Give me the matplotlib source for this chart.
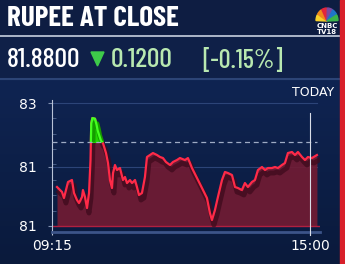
import numpy as np
import matplotlib
matplotlib.use("Agg")
import matplotlib.pyplot as plt
import matplotlib.transforms as mtransforms
from matplotlib.patches import Rectangle, Wedge, Polygon

# data: minutes after 09:15 and rupee level
minutes = [6.7, 13.4, 16.0, 21.4, 26.7, 29.4, 33.4, 36.1, 40.1, 41.4, 44.1, 46.8, 49.5,
           51.5, 52.5, 54.0, 57.5, 59.5, 61.0, 63.0, 65.5, 68.2, 72.2, 74.9, 77.5, 80.2,
           81.6, 84.2, 86.9, 90.9, 94.9, 97.6, 100.3, 104.3, 107.0, 111.0, 113.6, 116.3,
           120.3, 124.3, 127.0, 131.0, 135.0, 140.4, 144.4, 148.4, 152.4, 157.8, 161.8,
           167.1, 171.1, 177.8, 181.8, 187.2, 193.9, 200.6, 207.2, 211.2, 213.9, 217.9,
           221.9, 227.3, 231.3, 235.3, 240.7, 244.7, 248.7, 254.0, 258.0, 262.0, 267.4,
           271.4, 275.4, 280.8, 284.8, 288.8, 294.1, 298.2, 302.2, 307.5, 311.5, 315.5,
           320.9, 324.9, 328.9, 334.3, 338.3, 342.3, 347.6, 354.3]
rate = [81.613, 81.570, 81.518, 81.656, 81.673, 81.561, 81.501, 81.475, 81.527, 81.587,
        81.527, 81.432, 81.561, 81.845, 82.160, 82.206, 82.200, 82.150, 82.100, 82.060,
        82.010, 81.990, 81.905, 81.819, 81.673, 81.604, 81.733, 81.802, 81.759, 81.776,
        81.673, 81.699, 81.647, 81.673, 81.647, 81.673, 81.613, 81.544, 81.561, 81.699,
        81.871, 81.888, 81.905, 81.888, 81.871, 81.862, 81.828, 81.802, 81.828, 81.845,
        81.862, 81.845, 81.862, 81.776, 81.690, 81.604, 81.518, 81.389, 81.329, 81.415,
        81.527, 81.673, 81.742, 81.733, 81.716, 81.613, 81.604, 81.587, 81.647, 81.613,
        81.656, 81.673, 81.759, 81.785, 81.759, 81.776, 81.776, 81.785, 81.776, 81.802,
        81.819, 81.905, 81.914, 81.888, 81.914, 81.871, 81.845, 81.871, 81.862, 81.888]
prev_close = 82.00
base = 81.278
ytick_vals = [82.335, 81.785, 81.278]
ytick_labels = ["83", "81", "81"]
xtick_vals = [0, 345]
xtick_labels = ["09:15", "15:00"]

W, H = 345, 264
def fx(x):
    return x / W
def fy(y):
    return 1 - y / H

cond = ["Barlow Condensed", "DejaVu Sans"]

fig = plt.figure(figsize=(3.45, 2.64), dpi=100)
fig.patch.set_facecolor("#0c1a3a")

# background bands
fig.add_artist(Rectangle((0, fy(36)), 1, 36 / H, transform=fig.transFigure, color="#0e1d42", zorder=0))
fig.add_artist(Rectangle((0, fy(78)), 1, 41 / H, transform=fig.transFigure, color="#0f2048", zorder=0))
grad = np.linspace(0, 1, 100).reshape(-1, 1)
bg = fig.add_axes([0, 0, 1, fy(80)], zorder=0)
bg.imshow(grad, aspect="auto",
          cmap=matplotlib.colors.LinearSegmentedColormap.from_list("bg", ["#0f2452", "#0a1a3c"]),
          extent=[0, 1, 0, 1])
bg.axis("off")
fig.add_artist(plt.Line2D([0, fx(340)], [fy(36), fy(36)], transform=fig.transFigure, color="#c8d0e0", lw=1.2))
fig.add_artist(plt.Line2D([0, fx(340)], [fy(79), fy(79)], transform=fig.transFigure, color="#2c4476", lw=1.5))
# red edge
fig.add_artist(Rectangle((fx(340), 0), 5 / W, 1, transform=fig.transFigure, color="#d8202a", zorder=5))

# header text
fig.text(fx(7), fy(19), "RUPEE AT CLOSE", color="white", fontsize=21, fontweight="bold",
         family=cond, va="center", ha="left")
fig.text(fx(7), fy(60), "81.8800", color="white", fontsize=20, weight="medium", family=cond,
         va="center", ha="left")
fig.add_artist(Polygon([[fx(91), fy(52)], [fx(104), fy(52)], [fx(97.5), fy(66)]], closed=True,
                       transform=fig.transFigure, color="#3ecb4a"))
fig.text(fx(111), fy(60), "0.1200", color="#b8e8b0", fontsize=20, weight="medium", family=cond,
         va="center", ha="left")
fig.text(fx(202), fy(60), "[-0.15%]", color="#b8e8b0", fontsize=19, weight="medium", family=cond,
         va="center", ha="left")

# logo
cols = ["#f7d12a", "#f08a1c", "#e3263b", "#7c4aa0", "#1f76c8", "#3bb54a"]
cx, cy = fx(327), fy(21)
for i, c in enumerate(cols):
    a0 = 180 - (i + 1) * 30 + 2
    wg = Wedge((0, 0), 1, a0, a0 + 26, color=c)
    tr = mtransforms.Affine2D().scale(11 / W, 13 / H).translate(cx, cy) + fig.transFigure
    wg.set_transform(tr)
    fig.add_artist(wg)
fig.text(fx(327), fy(26), "CNBC", color="white", fontsize=5, fontweight="bold", ha="center", va="center")
fig.text(fx(327), fy(32), "TV18", color="white", fontsize=5, fontweight="bold", ha="center", va="center")

# chart
ax = fig.add_axes([fx(52), fy(232), 268 / W, 132 / H])
ax.set_facecolor("none")
ax.set_xlim(0, 358.4)
ax.set_ylim(81.226, 82.361)

x = np.array(minutes)
y = np.array(rate)

# area above previous close is drawn green through a clip box
above = Rectangle((0, prev_close), 400, 5, transform=ax.transData)
shadow = mtransforms.offset_copy(ax.transData, fig=fig, x=2, y=-5, units="dots")

ax.fill_between(x, y, base, color="#731b33", alpha=0.9, lw=0, zorder=2)
ax.plot(x, y, color="#3e0a1c", lw=3.5, alpha=0.75, transform=shadow, zorder=3)
ax.plot(x, y, color="#ff2a48", lw=1.6, zorder=4)

g1 = ax.fill_between(x, y, base, color="#1fd400", lw=0, zorder=5)
g1.set_clip_path(above)
g2, = ax.plot(x, y, color="#149c00", lw=3.5, transform=shadow, zorder=5)
g2.set_clip_path(above)
g3, = ax.plot(x, y, color="#44ff20", lw=1.6, zorder=6)
g3.set_clip_path(above)

ax.axhline(base, color="#b02040", lw=1, zorder=2)

for v in ytick_vals[:2]:
    ax.axhline(v, xmin=0, xmax=0.99, color="#2c4478", lw=0.8, zorder=1)
ax.axhline(prev_close, xmin=0, xmax=0.99, color="#9eabc4", lw=0.9, dashes=(4, 3), zorder=7)
ax.axvline(345, ymin=-0.02, ymax=0.9, color="#d8dde8", lw=0.8, zorder=7, clip_on=False)

for s in ["top", "right"]:
    ax.spines[s].set_visible(False)
ax.spines["left"].set_color("#b8c2d6")
ax.spines["left"].set_linewidth(0.8)
ax.spines["bottom"].set_color("#3c5488")
ax.spines["bottom"].set_linewidth(2)

ax.set_yticks(ytick_vals)
ax.set_yticklabels(ytick_labels, color="white", fontsize=10)
ax.set_xticks(xtick_vals)
ax.set_xticklabels(xtick_labels, color="white", fontsize=10)
ax.tick_params(axis="y", length=3, color="#8090b0", pad=8)
ax.tick_params(axis="x", length=2, color="#c0c8d8", pad=3)
ax.set_yticks(np.linspace(81.278, 82.335, 9), minor=True)
ax.tick_params(axis="y", which="minor", length=3, direction="in", color="#50668f")

fig.text(fx(313), fy(92), "TODAY", color="white", fontsize=9, ha="center", va="center")

fig.savefig("out.png", dpi=100, facecolor=fig.get_facecolor())
